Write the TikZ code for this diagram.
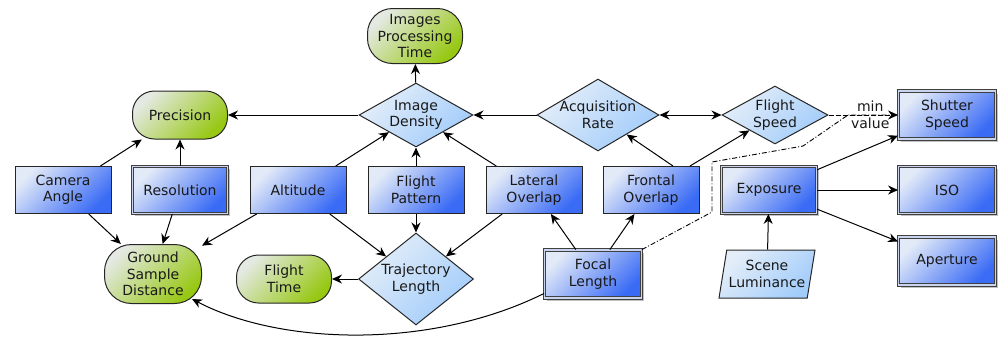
\documentclass[tikz,border=0pt]{standalone}
\usepackage{fontspec}
\setmainfont{DejaVu Sans}
\usetikzlibrary{shapes.geometric,shapes.misc,arrows.meta,shadows}
\definecolor{bluelight}{HTML}{E2EAF8}
\definecolor{bluedark}{HTML}{3A6BF5}
\definecolor{greenlight}{HTML}{E4E9E2}
\definecolor{greendark}{HTML}{97C813}
\definecolor{dialight}{HTML}{E4EEF9}
\definecolor{diadark}{HTML}{A2CCFA}
\definecolor{bandcol}{HTML}{C9D5EE}
\newcommand\zw[1]{\makebox[0pt]{#1}}
\tikzset{
 every node/.style={font=\fontsize{14}{16.5}\selectfont, align=center, text=black!90},
 base/.style={draw=black!85, line width=1pt, inner sep=0pt},
 bbox/.style={base, rectangle, minimum width=96pt, minimum height=47pt, left color=bluelight, right color=bluedark, shading angle=45},
 dbox/.style={bbox, draw=black!75, double=bandcol, double distance=1.8pt, line width=0.9pt,
   drop shadow={shadow xshift=2.5pt, shadow yshift=-2.5pt, fill=black!60, opacity=0.4}},
 gbox/.style={base, rectangle, rounded corners=22pt, minimum width=95pt, minimum height=48pt, left color=greenlight, right color=greendark, shading angle=45},
 dia/.style={base, diamond, left color=dialight, right color=diadark, shading angle=45},
 para/.style={base, trapezium, trapezium left angle=74, trapezium right angle=106, trapezium stretches body=true, minimum width=96pt, minimum height=48pt, left color=dialight, right color=diadark, shading angle=45},
 arr/.style={line width=1pt, draw=black, -{Stealth[length=10pt,width=9pt]}},
 darr/.style={line width=1pt, draw=black, {Stealth[length=10pt,width=9pt]}-{Stealth[length=10pt,width=9pt]}},
 dashdot/.style={line width=0.9pt, dash pattern=on 5pt off 2pt on 1pt off 2pt},
}
\begin{document}
\begin{tikzpicture}[x=1pt,y=-1pt]
\useasboundingbox (0,0) rectangle (1002,338);
% nodes
\node[gbox, rounded corners=25pt, minimum height=55pt] (IPT) at (415,36) {Images\\Processing\\Time};
\node[gbox] (Prec) at (180,115) {Precision};
\node[dia, minimum width=114pt, minimum height=64pt] (ID) at (416,115) {\zw{Image}\\\zw{Density}};
\node[dia, minimum width=122pt, minimum height=72pt] (AR) at (598,115) {\zw{Acquisition}\\\zw{Rate}};
\node[dia, minimum width=106pt, minimum height=58pt] (FS) at (775,115) {\zw{Flight}\\\zw{Speed}};
\node[dbox, minimum width=97pt, minimum height=48pt] (SS) at (947,115) {Shutter\\Speed};
\node[bbox] (CA) at (63,190) {Camera\\Angle};
\node[dbox, minimum width=95pt] (Res) at (180,190) {Resolution};
\node[bbox] (Alt) at (298,190) {Altitude};
\node[bbox] (FP) at (416,190) {Flight\\Pattern};
\node[bbox] (LO) at (534,190) {Lateral\\Overlap};
\node[bbox] (FO) at (651,190) {Frontal\\Overlap};
\node[dbox, minimum width=95pt] (Exp) at (769,190) {Exposure};
\node[dbox, minimum width=97pt] (ISO) at (947,190) {ISO};
\node[dbox, minimum width=97pt, minimum height=48pt] (Ap) at (947,261) {Aperture};
\node[gbox, minimum width=97pt, minimum height=59pt, rounded corners=27pt] (GSD) at (153,274) {Ground\\Sample\\Distance};
\node[gbox] (FT) at (284,279) {Flight\\Time};
\node[dia, minimum width=115pt, minimum height=92pt] (TL) at (416,279) {\zw{Trajectory}\\\zw{Length}};
\node[dbox, minimum width=97pt, minimum height=48pt] (FL) at (593,274) {Focal\\Length};
\node[para] (SL) at (767,274) {\zw{Scene}\\\zw{Luminance}};
% bend points of the dash-dot connector
\coordinate (b1) at (712,212);
\coordinate (b2) at (712,162);
\coordinate (b3) at (803,146);
\coordinate (b4) at (848,115);
% connectors
\draw[arr] (ID) -- (IPT);
\draw[arr] (ID) -- (Prec);
\draw[arr] (AR) -- (ID);
\draw[darr] (AR) -- (FS);
\draw[dashdot] (FL.north east) -- (b1) -- (b2) -- (b3) -- (b4) -- (SS.west);
\draw[arr, dash pattern=on 5pt off 2pt] (FS) -- node[pos=0.6, inner sep=0pt] (mv) {min\\value} (SS);
\draw[arr] (CA) -- (Prec);
\draw[arr] (Res) -- (Prec);
\draw[arr] (Alt) -- (ID);
\draw[arr] (FP) -- (ID);
\draw[arr] (LO) -- (ID);
\draw[arr] ([xshift=22pt]FO.north) -- (AR);
\draw[arr] ([xshift=39pt]FO.north) -- (FS);
\draw[arr] (Exp) -- (SS);
\draw[arr] (Exp) -- (ISO);
\draw[arr] (Exp) -- (Ap);
\draw[arr] (SL) -- (Exp);
\draw[arr] (CA) -- (GSD);
\draw[arr] (Res) -- (GSD);
\draw[arr] (Alt) -- (GSD);
\draw[arr] (Alt) -- (TL);
\draw[arr] (FP) -- (TL);
\draw[arr] (LO) -- (TL);
\draw[arr] (TL) -- (FT);
\draw[arr] (FL) -- (LO);
\draw[arr] (FL) -- (FO);
\draw[arr] ([yshift=5pt]FL.south west) .. controls (430,350) and (280,345) .. ([xshift=-10pt,yshift=5pt]GSD.south east);
\end{tikzpicture}
\end{document}
